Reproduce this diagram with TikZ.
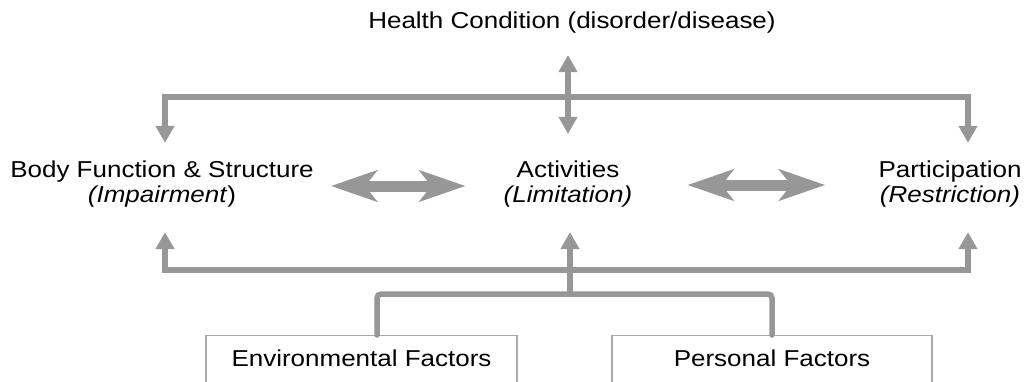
\documentclass[tikz,border=0pt]{standalone}
\usepackage{fontspec}
\setmainfont{Liberation Sans}[FakeStretch=1.13]
\usetikzlibrary{arrows.meta,calc}
\definecolor{arr}{HTML}{979797}
\definecolor{frame}{HTML}{A8A8A8}

\begin{document}
\begin{tikzpicture}[
  x=1pt, y=-1pt,
  >={Triangle[length=17pt,width=18pt]},
  term/.style={font=\fontsize{23}{25}\selectfont, align=center, inner sep=0pt},
  link/.style={draw=arr, line width=5.5pt},
  wide/.style={draw=arr, line width=11pt, {Stealth[length=46pt,width=31pt,inset=12pt]}-{Stealth[length=46pt,width=31pt,inset=12pt]}},
  factor/.style={draw=frame, line width=1.2pt, anchor=north, font=\fontsize{23}{25}\selectfont, inner ysep=0pt, text height=31pt, text depth=60pt},
]
\useasboundingbox (0,0) rectangle (1028,381);
\clip (0,0) rectangle (1028,381);

\node[term] (health) at (572,23) {Health Condition (disorder/disease)};
\node[term] (body) at (162,184) {Body Function \& Structure\\\textit{(Impairment})};
\node[term] (act) at (568,184) {Activities\\\textit{(Limitation)}};
\node[term] (part) at (950,184) {Participation\\\textit{(Restriction)}};

\node[factor, minimum width=311pt] (env) at (361.5,335) {Environmental Factors};
\node[factor, minimum width=320pt] (pers) at (772,335) {Personal Factors};

\coordinate (high) at (568,97);
\coordinate (low) at (568,270);
\coordinate (fac) at (570,294);

% health condition bracket
\draw[link, <->, shorten <=17.7pt, shorten >=17.7pt] ([xshift=3pt]body.north) |- (high) -| ([xshift=18pt]part.north);
\draw[link, <->, shorten <=21.2pt, shorten >=26.7pt] (act.north |- health.south) -- (act.north);

% contextual factors
\draw[link, <->, shorten <=24.7pt, shorten >=24.7pt] ([xshift=3pt]body.south) |- (low) -| ([xshift=18pt]part.south);
\draw[link, rounded corners=4pt, line cap=round] ([xshift=15.5pt]env.north) |- (fac) -| (pers.north);
\draw[link, ->, shorten >=24.7pt] (fac) -- (fac |- act.south);

% interactions between the components
\draw[wide, shorten <=17pt, shorten >=38pt] ([yshift=-2pt]body.east) -- ([yshift=-2pt]body.east -| act.west);
\draw[wide, shorten <=55pt, shorten >=53pt] ([yshift=-1pt]act.east) -- ([yshift=-1pt]act.east -| part.west);

\end{tikzpicture}
\end{document}
